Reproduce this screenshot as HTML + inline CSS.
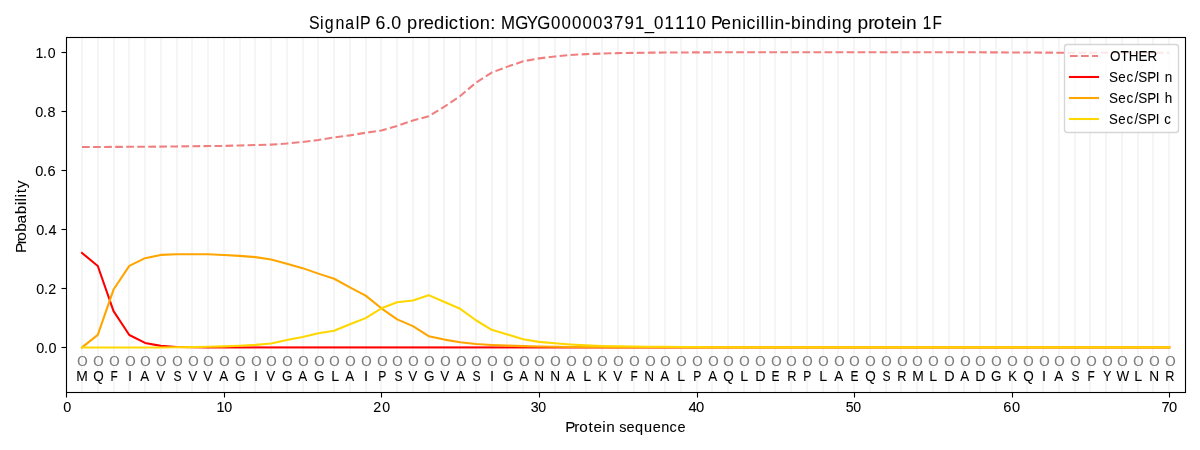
<!DOCTYPE html>
<html><head><meta charset="utf-8"><title>SignalP 6.0 prediction</title>
<style>html,body{margin:0;padding:0;background:#fff;overflow:hidden}svg{display:block;will-change:transform}text{font-family:"Liberation Sans",sans-serif;fill:#000;font-kerning:none;stroke:#000;stroke-width:0.07px}</style>
</head><body>
<svg width="1200" height="450" viewBox="0 0 1200 450">
<rect x="0" y="0" width="1200" height="450" fill="#ffffff"/>
<defs><clipPath id="ax"><rect x="66.28" y="37.33" width="1118.72" height="354.39"/></clipPath></defs>
<g stroke="#f5f5f5" stroke-width="2.08" clip-path="url(#ax)">
<path d="M82,37V393"/>
<path d="M98,37V393"/>
<path d="M114,37V393"/>
<path d="M129,37V393"/>
<path d="M145,37V393"/>
<path d="M161,37V393"/>
<path d="M177,37V393"/>
<path d="M192,37V393"/>
<path d="M208,37V393"/>
<path d="M224,37V393"/>
<path d="M240,37V393"/>
<path d="M255,37V393"/>
<path d="M271,37V393"/>
<path d="M287,37V393"/>
<path d="M303,37V393"/>
<path d="M318,37V393"/>
<path d="M334,37V393"/>
<path d="M350,37V393"/>
<path d="M366,37V393"/>
<path d="M381,37V393"/>
<path d="M397,37V393"/>
<path d="M413,37V393"/>
<path d="M429,37V393"/>
<path d="M444,37V393"/>
<path d="M460,37V393"/>
<path d="M476,37V393"/>
<path d="M492,37V393"/>
<path d="M507,37V393"/>
<path d="M523,37V393"/>
<path d="M539,37V393"/>
<path d="M555,37V393"/>
<path d="M570,37V393"/>
<path d="M586,37V393"/>
<path d="M602,37V393"/>
<path d="M618,37V393"/>
<path d="M634,37V393"/>
<path d="M649,37V393"/>
<path d="M665,37V393"/>
<path d="M681,37V393"/>
<path d="M697,37V393"/>
<path d="M712,37V393"/>
<path d="M728,37V393"/>
<path d="M744,37V393"/>
<path d="M760,37V393"/>
<path d="M775,37V393"/>
<path d="M791,37V393"/>
<path d="M807,37V393"/>
<path d="M823,37V393"/>
<path d="M838,37V393"/>
<path d="M854,37V393"/>
<path d="M870,37V393"/>
<path d="M886,37V393"/>
<path d="M901,37V393"/>
<path d="M917,37V393"/>
<path d="M933,37V393"/>
<path d="M949,37V393"/>
<path d="M964,37V393"/>
<path d="M980,37V393"/>
<path d="M996,37V393"/>
<path d="M1012,37V393"/>
<path d="M1027,37V393"/>
<path d="M1043,37V393"/>
<path d="M1059,37V393"/>
<path d="M1075,37V393"/>
<path d="M1090,37V393"/>
<path d="M1106,37V393"/>
<path d="M1122,37V393"/>
<path d="M1138,37V393"/>
<path d="M1153,37V393"/>
<path d="M1169,37V393"/>
</g>
<g fill="none" stroke-width="2.083" stroke-linejoin="round" clip-path="url(#ax)">
<path d="M82.03,146.96 L97.79,146.96 L113.55,146.90 L129.30,146.81 L145.06,146.72 L160.82,146.60 L176.57,146.43 L192.33,146.25 L208.09,146.07 L223.84,145.92 L239.60,145.48 L255.36,145.04 L271.11,144.60 L286.87,143.53 L302.63,141.94 L318.38,140.05 L334.14,137.48 L349.90,135.35 L365.65,132.78 L381.41,130.42 L397.17,125.90 L412.92,120.56 L428.68,116.30 L444.44,106.68 L460.19,96.01 L475.95,82.67 L491.71,72.54 L507.46,66.63 L523.22,61.31 L538.98,58.36 L554.73,56.50 L570.49,54.99 L586.25,54.11 L602.00,53.58 L617.76,53.13 L633.52,52.90 L649.27,52.66 L665.03,52.54 L680.79,52.45 L696.54,52.39 L712.30,52.34 L728.06,52.28 L743.81,52.25 L759.57,52.22 L775.33,52.19 L791.08,52.19 L806.84,52.19 L822.60,52.19 L838.35,52.19 L854.11,52.19 L869.87,52.19 L885.62,52.19 L901.38,52.19 L917.14,52.19 L932.89,52.19 L948.65,52.19 L964.41,52.25 L980.16,52.31 L995.92,52.37 L1011.68,52.45 L1027.43,52.54 L1043.19,52.60 L1058.95,52.69 L1074.70,52.69 L1090.46,52.69 L1106.22,52.69 L1121.97,52.69 L1137.73,52.69 L1153.49,52.69 L1169.24,52.69" stroke="#f08080" stroke-dasharray="7.708 3.333" stroke-linecap="butt"/>
<path d="M81.23,252.31 L82.03,252.98 L97.79,266.03 L113.55,311.10 L129.30,335.02 L145.06,342.93 L160.82,345.86 L176.57,346.98 L192.33,347.28 L208.09,347.42 L210,347.42" stroke="#ff0000" stroke-linecap="butt"/>
<rect x="210" y="346.382" width="960.28" height="2.083" fill="#ff0000" stroke="none"/>
<path d="M81.22,348.07 L82.03,347.42 L97.79,334.87 L113.55,289.54 L129.30,265.88 L145.06,258.15 L160.82,254.90 L176.57,254.28 L192.33,254.19 L208.09,254.25 L223.84,254.93 L239.60,255.87 L255.36,257.14 L271.11,259.51 L286.87,263.82 L302.63,268.13 L318.38,273.62 L334.14,278.76 L349.90,287.30 L365.65,295.65 L381.41,308.29 L397.17,319.37 L412.92,326.16 L428.68,336.20 L444.44,339.60 L460.19,342.28 L475.95,344.00 L491.71,344.97 L507.46,345.65 L523.22,346.09 L538.98,346.54 L554.73,346.83 L570.49,346.98 L586.25,347.13 L602.00,347.28 L617.76,347.34 L619,347.34" stroke="#ffa500" stroke-linecap="butt"/>
<rect x="619" y="346.294" width="551.28" height="2.083" fill="#ffa500" stroke="none"/>
<path d="M80.99,347.42 L82.03,347.42 L97.79,347.42 L113.55,347.42 L129.30,347.42 L145.06,347.42 L160.82,347.42 L176.57,347.28 L192.33,347.13 L208.09,346.83 L223.84,346.39 L239.60,345.80 L255.36,344.91 L271.11,343.50 L286.87,340.10 L302.63,336.91 L318.38,333.25 L334.14,330.80 L349.90,324.21 L365.65,318.10 L381.41,308.29 L397.17,302.24 L412.92,300.47 L428.68,295.15 L444.44,301.94 L460.19,308.82 L475.95,320.25 L491.71,329.82 L507.46,334.46 L523.22,339.30 L538.98,341.90 L554.73,343.29 L570.49,344.47 L586.25,345.36 L602.00,345.95 L617.76,346.24 L633.52,346.54 L649.27,346.69 L665.03,346.83 L680.79,346.98 L696.54,347.13 L712.30,347.19 L728.06,347.28 L743.81,347.34 L745,347.34" stroke="#ffd700" stroke-linecap="butt"/>
<rect x="745" y="346.294" width="425.28" height="2.083" fill="#ffd700" stroke="none"/>
</g>
<defs><path id="o" fill="#808080" fill-rule="evenodd" d="M-4.750,0C-4.750,-3.131 -2.945,-5.050 0,-5.050 C2.945,-5.050 4.750,-3.131 4.750,0 C4.750,3.131 2.945,5.050 0,5.050 C-2.945,5.050 -4.750,3.131 -4.750,0Z M-3.125,0C-3.125,-2.449 -1.938,-3.950 0,-3.950 C1.938,-3.950 3.125,-2.449 3.125,0 C3.125,2.449 1.938,3.950 0,3.950 C-1.938,3.950 -3.125,2.449 -3.125,0Z"/></defs>
<g>
<use href="#o" x="82.43" y="361"/>
<use href="#o" x="98.43" y="361"/>
<use href="#o" x="114.43" y="361"/>
<use href="#o" x="130.43" y="361"/>
<use href="#o" x="145.43" y="361"/>
<use href="#o" x="161.43" y="361"/>
<use href="#o" x="177.43" y="361"/>
<use href="#o" x="193.43" y="361"/>
<use href="#o" x="208.43" y="361"/>
<use href="#o" x="224.43" y="361"/>
<use href="#o" x="240.43" y="361"/>
<use href="#o" x="256.43" y="361"/>
<use href="#o" x="271.43" y="361"/>
<use href="#o" x="287.43" y="361"/>
<use href="#o" x="303.43" y="361"/>
<use href="#o" x="319.43" y="361"/>
<use href="#o" x="334.43" y="361"/>
<use href="#o" x="350.43" y="361"/>
<use href="#o" x="366.43" y="361"/>
<use href="#o" x="382.43" y="361"/>
<use href="#o" x="397.43" y="361"/>
<use href="#o" x="413.43" y="361"/>
<use href="#o" x="429.43" y="361"/>
<use href="#o" x="445.43" y="361"/>
<use href="#o" x="461.43" y="361"/>
<use href="#o" x="476.43" y="361"/>
<use href="#o" x="492.43" y="361"/>
<use href="#o" x="508.43" y="361"/>
<use href="#o" x="524.43" y="361"/>
<use href="#o" x="539.43" y="361"/>
<use href="#o" x="555.43" y="361"/>
<use href="#o" x="571.43" y="361"/>
<use href="#o" x="587.43" y="361"/>
<use href="#o" x="602.43" y="361"/>
<use href="#o" x="618.43" y="361"/>
<use href="#o" x="634.43" y="361"/>
<use href="#o" x="650.43" y="361"/>
<use href="#o" x="665.43" y="361"/>
<use href="#o" x="681.43" y="361"/>
<use href="#o" x="697.43" y="361"/>
<use href="#o" x="713.43" y="361"/>
<use href="#o" x="728.43" y="361"/>
<use href="#o" x="744.43" y="361"/>
<use href="#o" x="760.43" y="361"/>
<use href="#o" x="776.43" y="361"/>
<use href="#o" x="791.43" y="361"/>
<use href="#o" x="807.43" y="361"/>
<use href="#o" x="823.43" y="361"/>
<use href="#o" x="839.43" y="361"/>
<use href="#o" x="854.43" y="361"/>
<use href="#o" x="870.43" y="361"/>
<use href="#o" x="886.43" y="361"/>
<use href="#o" x="902.43" y="361"/>
<use href="#o" x="917.43" y="361"/>
<use href="#o" x="933.43" y="361"/>
<use href="#o" x="949.43" y="361"/>
<use href="#o" x="965.43" y="361"/>
<use href="#o" x="980.43" y="361"/>
<use href="#o" x="996.43" y="361"/>
<use href="#o" x="1012.43" y="361"/>
<use href="#o" x="1028.43" y="361"/>
<use href="#o" x="1044.43" y="361"/>
<use href="#o" x="1059.43" y="361"/>
<use href="#o" x="1075.43" y="361"/>
<use href="#o" x="1091.43" y="361"/>
<use href="#o" x="1107.43" y="361"/>
<use href="#o" x="1122.43" y="361"/>
<use href="#o" x="1138.43" y="361"/>
<use href="#o" x="1154.43" y="361"/>
<use href="#o" x="1170.43" y="361"/>
</g>
<g>
<text transform="translate(76.222,381.00) scale(0.9634,1)" font-size="14.40px">M</text>
<text transform="translate(93.140,381.00) scale(0.9380,1)" font-size="14.40px">Q</text>
<text transform="translate(110.389,381.00) scale(0.8218,1)" font-size="14.40px">F</text>
<text transform="translate(127.998,381.00) scale(1.0127,1)" font-size="14.40px">I</text>
<text transform="translate(140.258,381.00) scale(0.9321,1)" font-size="14.40px">A</text>
<text transform="translate(156.225,381.00) scale(0.9390,1)" font-size="14.40px">V</text>
<text transform="translate(173.452,381.00) scale(0.8377,1)" font-size="14.40px">S</text>
<text transform="translate(188.225,381.00) scale(0.9390,1)" font-size="14.40px">V</text>
<text transform="translate(203.225,381.00) scale(0.9390,1)" font-size="14.40px">V</text>
<text transform="translate(219.258,381.00) scale(0.9321,1)" font-size="14.40px">A</text>
<text transform="translate(235.102,381.00) scale(0.9357,1)" font-size="14.40px">G</text>
<text transform="translate(253.998,381.00) scale(1.0127,1)" font-size="14.40px">I</text>
<text transform="translate(266.225,381.00) scale(0.9390,1)" font-size="14.40px">V</text>
<text transform="translate(282.102,381.00) scale(0.9357,1)" font-size="14.40px">G</text>
<text transform="translate(298.258,381.00) scale(0.9321,1)" font-size="14.40px">A</text>
<text transform="translate(314.102,381.00) scale(0.9357,1)" font-size="14.40px">G</text>
<text transform="translate(331.195,381.00) scale(0.9866,1)" font-size="14.40px">L</text>
<text transform="translate(345.258,381.00) scale(0.9321,1)" font-size="14.40px">A</text>
<text transform="translate(363.986,381.00) scale(1.0216,1)" font-size="14.40px">I</text>
<text transform="translate(378.364,381.00) scale(0.8429,1)" font-size="14.40px">P</text>
<text transform="translate(394.452,381.00) scale(0.8377,1)" font-size="14.40px">S</text>
<text transform="translate(408.225,381.00) scale(0.9390,1)" font-size="14.40px">V</text>
<text transform="translate(424.102,381.00) scale(0.9357,1)" font-size="14.40px">G</text>
<text transform="translate(440.225,381.00) scale(0.9390,1)" font-size="14.40px">V</text>
<text transform="translate(456.258,381.00) scale(0.9321,1)" font-size="14.40px">A</text>
<text transform="translate(472.452,381.00) scale(0.8377,1)" font-size="14.40px">S</text>
<text transform="translate(489.986,381.00) scale(1.0216,1)" font-size="14.40px">I</text>
<text transform="translate(503.102,381.00) scale(0.9357,1)" font-size="14.40px">G</text>
<text transform="translate(519.258,381.00) scale(0.9321,1)" font-size="14.40px">A</text>
<text transform="translate(534.238,381.00) scale(0.9498,1)" font-size="14.40px">N</text>
<text transform="translate(550.238,381.00) scale(0.9498,1)" font-size="14.40px">N</text>
<text transform="translate(566.258,381.00) scale(0.9321,1)" font-size="14.40px">A</text>
<text transform="translate(583.195,381.00) scale(0.9866,1)" font-size="14.40px">L</text>
<text transform="translate(598.297,381.00) scale(0.9001,1)" font-size="14.40px">K</text>
<text transform="translate(613.225,381.00) scale(0.9390,1)" font-size="14.40px">V</text>
<text transform="translate(630.389,381.00) scale(0.8218,1)" font-size="14.40px">F</text>
<text transform="translate(644.238,381.00) scale(0.9498,1)" font-size="14.40px">N</text>
<text transform="translate(660.258,381.00) scale(0.9321,1)" font-size="14.40px">A</text>
<text transform="translate(677.195,381.00) scale(0.9866,1)" font-size="14.40px">L</text>
<text transform="translate(693.364,381.00) scale(0.8429,1)" font-size="14.40px">P</text>
<text transform="translate(708.258,381.00) scale(0.9321,1)" font-size="14.40px">A</text>
<text transform="translate(723.140,381.00) scale(0.9380,1)" font-size="14.40px">Q</text>
<text transform="translate(740.195,381.00) scale(0.9866,1)" font-size="14.40px">L</text>
<text transform="translate(755.183,381.00) scale(0.9961,1)" font-size="14.40px">D</text>
<text transform="translate(771.376,381.00) scale(0.8333,1)" font-size="14.40px">E</text>
<text transform="translate(787.313,381.00) scale(0.8861,1)" font-size="14.40px">R</text>
<text transform="translate(803.364,381.00) scale(0.8429,1)" font-size="14.40px">P</text>
<text transform="translate(819.195,381.00) scale(0.9866,1)" font-size="14.40px">L</text>
<text transform="translate(834.258,381.00) scale(0.9321,1)" font-size="14.40px">A</text>
<text transform="translate(850.376,381.00) scale(0.8333,1)" font-size="14.40px">E</text>
<text transform="translate(865.140,381.00) scale(0.9380,1)" font-size="14.40px">Q</text>
<text transform="translate(882.452,381.00) scale(0.8377,1)" font-size="14.40px">S</text>
<text transform="translate(897.313,381.00) scale(0.8861,1)" font-size="14.40px">R</text>
<text transform="translate(912.222,381.00) scale(0.9634,1)" font-size="14.40px">M</text>
<text transform="translate(929.195,381.00) scale(0.9866,1)" font-size="14.40px">L</text>
<text transform="translate(944.183,381.00) scale(0.9961,1)" font-size="14.40px">D</text>
<text transform="translate(960.258,381.00) scale(0.9321,1)" font-size="14.40px">A</text>
<text transform="translate(975.183,381.00) scale(0.9961,1)" font-size="14.40px">D</text>
<text transform="translate(991.102,381.00) scale(0.9357,1)" font-size="14.40px">G</text>
<text transform="translate(1008.297,381.00) scale(0.9001,1)" font-size="14.40px">K</text>
<text transform="translate(1023.140,381.00) scale(0.9380,1)" font-size="14.40px">Q</text>
<text transform="translate(1041.998,381.00) scale(1.0127,1)" font-size="14.40px">I</text>
<text transform="translate(1054.258,381.00) scale(0.9321,1)" font-size="14.40px">A</text>
<text transform="translate(1071.452,381.00) scale(0.8377,1)" font-size="14.40px">S</text>
<text transform="translate(1087.389,381.00) scale(0.8218,1)" font-size="14.40px">F</text>
<text transform="translate(1102.971,381.00) scale(0.8765,1)" font-size="14.40px">Y</text>
<text transform="translate(1116.525,381.00) scale(0.9315,1)" font-size="14.40px">W</text>
<text transform="translate(1134.195,381.00) scale(0.9866,1)" font-size="14.40px">L</text>
<text transform="translate(1149.238,381.00) scale(0.9498,1)" font-size="14.40px">N</text>
<text transform="translate(1165.313,381.00) scale(0.8861,1)" font-size="14.40px">R</text>
</g>
<g fill="none" stroke="#000" stroke-width="1.111">
<rect x="66.5" y="37.5" width="1119" height="355"/>
<path d="M66.5,392.5V397.5"/>
<path d="M224.5,392.5V397.5"/>
<path d="M381.5,392.5V397.5"/>
<path d="M539.5,392.5V397.5"/>
<path d="M697.5,392.5V397.5"/>
<path d="M854.5,392.5V397.5"/>
<path d="M1012.5,392.5V397.5"/>
<path d="M1169.5,392.5V397.5"/>
<path d="M66.5,347.5H61.5"/>
<path d="M66.5,288.5H61.5"/>
<path d="M66.5,229.5H61.5"/>
<path d="M66.5,170.5H61.5"/>
<path d="M66.5,111.5H61.5"/>
<path d="M66.5,52.5H61.5"/>
</g>
<g>
<text transform="translate(0,412.00) scale(1.0009,1)" x="63.28" font-size="14.40px">0</text>
<text transform="translate(0,412.00) scale(0.9953,1)" x="217.62 225.29" font-size="14.40px">10</text>
<text transform="translate(0,412.00) scale(0.9868,1)" x="378.24 387.26" font-size="14.40px">20</text>
<text transform="translate(0,412.00) scale(0.9836,1)" x="539.64 547.13" font-size="14.40px">30</text>
<text transform="translate(0,412.00) scale(1.0287,1)" x="669.26 676.59" font-size="14.40px">40</text>
<text transform="translate(0,412.00) scale(0.9796,1)" x="863.33 870.95" font-size="14.40px">50</text>
<text transform="translate(0,412.00) scale(1.0177,1)" x="985.85 994.51" font-size="14.40px">60</text>
<text transform="translate(0,412.00) scale(1.0205,1)" x="1138.10 1145.52" font-size="14.40px">70</text>
<text transform="translate(0,353.00) scale(1.0017,1)" x="36.27 43.86 48.37" font-size="14.40px">0.0</text>
<text transform="translate(0,294.00) scale(0.9889,1)" x="36.79 44.45 48.90" font-size="14.40px">0.2</text>
<text transform="translate(0,235.00) scale(1.0046,1)" x="36.15 43.72 48.27" font-size="14.40px">0.4</text>
<text transform="translate(0,176.00) scale(1.0168,1)" x="34.69 42.20 46.68" font-size="14.40px">0.6</text>
<text transform="translate(0,117.00) scale(1.0026,1)" x="35.24 42.82 47.45" font-size="14.40px">0.8</text>
<text transform="translate(0,58.00) scale(0.9806,1)" x="36.25 43.95 48.61" font-size="14.40px">1.0</text>
</g>
<text transform="translate(0,432.00) scale(1.0521,1)" x="537.26 545.90 550.67 559.41 564.14 572.50 576.14" font-size="14.55px">Protein</text>
<text transform="translate(0,432.00) scale(0.9964,1)" x="621.40 628.79 637.38 646.25 655.01 663.67 671.91 679.98" font-size="14.55px">sequence</text>
<text transform="translate(26.00,0) rotate(-90) scale(1.0621,1)" x="-238.10 -230.09 -226.64 -218.18 -210.44 -201.69 -193.30 -189.63 -186.00 -182.03 -177.23" font-size="14.55px" stroke="none">Probability</text>
<g>
<text transform="translate(0,29.00) scale(0.8437,1)" x="366.32 379.41 385.00 397.65 409.15 421.78 426.55" font-size="18.90px">SignalP</text>
<text transform="translate(0,29.00) scale(0.9389,1)" x="399.97 411.01 416.81" font-size="18.90px">6.0</text>
<text transform="translate(0,29.00) scale(0.9663,1)" x="421.22 432.64 438.59 449.23 460.37 464.45 474.97 481.33 485.71 496.46 507.45" font-size="18.90px">prediction:</text>
<text transform="translate(0,29.00) scale(0.8910,1)" x="562.44 578.40 591.22 602.94 618.36 630.15 641.93 653.71 665.50 677.31 689.15 700.89 712.76 723.71 734.10 745.86 757.79 769.71 781.66" font-size="18.90px">MGYG000003791_01110</text>
<text transform="translate(0,29.00) scale(0.9235,1)" x="770.04 781.14 792.48 803.84 808.34 818.73 823.73 828.74 833.75 838.77 849.69 856.56 867.87 872.88 884.09 895.62 900.63 911.84" font-size="18.90px">Penicillin-binding</text>
<text transform="translate(0,29.00) scale(1.0141,1)" x="845.56 856.13 861.65 872.87 878.52 889.07 893.35" font-size="18.90px">protein</text>
<text transform="translate(0,29.00) scale(0.8147,1)" x="1132.70 1144.57" font-size="18.90px">1F</text>
</g>
<rect x="1064.5" y="44.5" width="114" height="88" rx="2.78" ry="2.78" fill="#ffffff" fill-opacity="0.8" stroke="#cccccc" stroke-opacity="0.8" stroke-width="1.389"/>
<g fill="none" stroke-width="2.083">
<path d="M1070,56H1098" stroke="#f08080" stroke-dasharray="7.708 3.333"/>
<path d="M1070,77H1098" stroke="#ff0000" stroke-linecap="square"/>
<path d="M1070,98H1098" stroke="#ffa500" stroke-linecap="square"/>
<path d="M1070,119H1098" stroke="#ffd700" stroke-linecap="square"/>
</g>
<g>
<text transform="translate(0,61.00) scale(0.9231,1)" x="1202.57 1213.79 1222.74 1233.40 1243.12" font-size="14.55px">OTHER</text>
<text transform="translate(0,82.00) scale(0.9233,1)" x="1201.11 1211.25 1220.02 1228.67 1232.84 1242.50 1251.84 1255.89 1261.48" font-size="14.55px">Sec/SPI n</text>
<text transform="translate(0,103.00) scale(0.9241,1)" x="1200.06 1210.20 1218.95 1227.61 1231.76 1241.41 1250.76 1254.80 1260.36" font-size="14.55px">Sec/SPI h</text>
<text transform="translate(0,124.00) scale(0.9077,1)" x="1221.80 1232.10 1241.01 1249.79 1254.07 1263.90 1273.35 1277.40 1282.62" font-size="14.55px">Sec/SPI c</text>
</g>
</svg></body></html>
